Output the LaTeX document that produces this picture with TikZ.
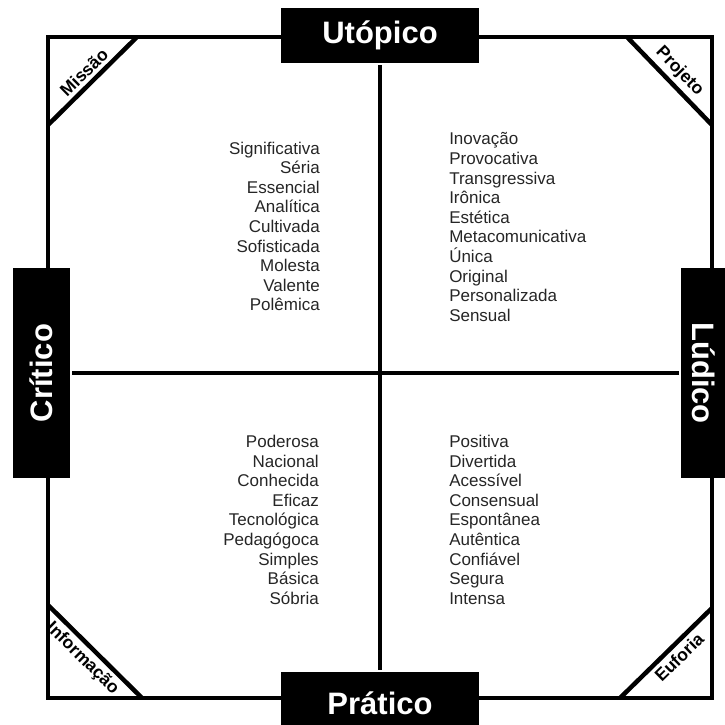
\documentclass[tikz,border=0pt]{standalone}
\usepackage{fontspec}
\setmainfont{Liberation Sans}
\usetikzlibrary{positioning}

\begin{document}
\begin{tikzpicture}[x=1pt, y=-1pt, line width=4.5pt,
  polo/.style={fill=black, text=white, inner sep=0pt, font=\fontsize{31}{31}\selectfont\bfseries},
  lista/.style={inner sep=0pt, text=black!85, font=\fontsize{17}{19.6}\selectfont},
  canto/.style={sloped, inner sep=3.5pt, font=\fontsize{17.5}{17.5}\selectfont\bfseries}]
\useasboundingbox (0,0) rectangle (725,724);
\clip (0,0) rectangle (725,724);
\fill[white] (0,0) rectangle (725,724);
% quadrado externo
\draw (48,37) rectangle (712,698);
% cantos
\draw (48,125) -- node[canto, above] (missao) {Missão} (137,37);
\draw (627,37) -- node[canto, above] (projeto) {Projeto} (712,125);
\draw (48,605) -- node[canto, below, pos=0.47] (informacao) {Informação} (142,698);
\draw (620,698) -- node[canto, below, pos=0.55] (euforia) {Euforia} (712,608);
% polos
\node[polo, minimum width=198pt, minimum height=55pt] (utop) at (380,35.5) {Utópico};
\node[polo, minimum width=198pt, minimum height=62pt] (prat) at (380,703) {Prático};
\node[polo, rotate=90, minimum width=210pt, minimum height=57pt] (crit) at (41.5,373) {Crítico};
\node[polo, rotate=-90, minimum width=210pt, minimum height=46pt] (lud) at (704,373) {Lúdico};
% eixos
\draw (utop) -- (prat);
\draw (crit) -- (lud);
% quadrantes
\node[lista, align=right, anchor=north east] (q1) at (322,139.5)
  {Significativa\\Séria\\Essencial\\Analítica\\Cultivada\\Sofisticada\\Molesta\\Valente\\Polêmica};
\node[lista, align=left, anchor=north west] (q2) at (447,130.5)
  {Inovação\\Provocativa\\Transgressiva\\Irônica\\Estética\\Metacomunicativa\\Única\\Original\\Personalizada\\Sensual};
\node[lista, align=right, anchor=north east] (q3) at (321,433)
  {Poderosa\\Nacional\\Conhecida\\Eficaz\\Tecnológica\\Pedagógoca\\Simples\\Básica\\Sóbria};
\node[lista, align=left, anchor=north west] (q4) at (447,433)
  {Positiva\\Divertida\\Acessível\\Consensual\\Espontânea\\Autêntica\\Confiável\\Segura\\Intensa};
\end{tikzpicture}
\end{document}
